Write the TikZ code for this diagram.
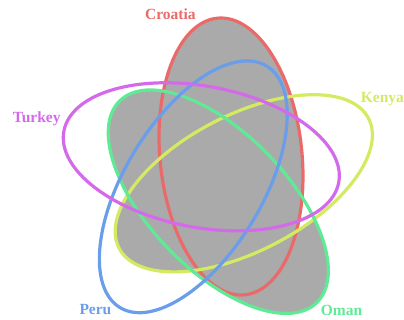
\documentclass[tikz,border=0pt]{standalone}
\usepackage{fontspec}
\setmainfont{Liberation Serif}
\usetikzlibrary{positioning}

\definecolor{croatiared}{RGB}{234,106,106}
\definecolor{kenyayellow}{RGB}{212,234,96}
\definecolor{omangreen}{RGB}{96,234,150}
\definecolor{perublue}{RGB}{106,158,234}
\definecolor{turkeypurple}{RGB}{212,106,234}
\definecolor{cellgray}{RGB}{170,170,170}

\tikzset{
  setline/.style={line width=3.2pt},
  setlabel/.style={font=\bfseries\fontsize{15.5}{18}\selectfont, anchor=base west, inner sep=0pt},
  croatia/.style={rotate around={95.65:(231,163.5)}},
  kenya/.style={rotate around={27.5:(243.8,136.7)}},
  oman/.style={rotate around={-45.7:(218.3,118.3)}},
  peru/.style={rotate around={58.7:(193.3,133.2)}},
  turkey/.style={rotate around={-10.6:(201.3,163.2)}}
}
\def\ellC{(231,163.5) ellipse [x radius=139, y radius=71]}
\def\ellK{(243.8,136.7) ellipse [x radius=140.6, y radius=68]}
\def\ellO{(218.3,118.3) ellipse [x radius=141, y radius=68.6]}
\def\ellP{(193.3,133.2) ellipse [x radius=141.3, y radius=68.6]}
\def\ellT{(201.3,163.2) ellipse [x radius=139.8, y radius=70.6]}
% clockwise frame, so ellipse + frame clips to the outside of the ellipse
\def\outer{(-400,-400) rectangle (800,800)}

\begin{document}
\begin{tikzpicture}[x=1pt,y=1pt]
    \useasboundingbox (0,0) rectangle (404,320);

    % filled cells
    \fill[cellgray, croatia] \ellC;
    \foreach \k/\o/\p/\t in {0/1/0/0, 0/1/0/1, 0/1/1/0, 0/1/1/1, 1/1/1/0, 1/1/1/1, 1/0/1/0, 1/0/1/1}{
        \begin{scope}
            \ifnum\k=1 \clip[kenya] \ellK; \else \clip[kenya] \ellK \outer; \fi
            \ifnum\o=1 \clip[oman] \ellO; \else \clip[oman] \ellO \outer; \fi
            \ifnum\p=1 \clip[peru] \ellP; \else \clip[peru] \ellP \outer; \fi
            \ifnum\t=1 \clip[turkey] \ellT; \else \clip[turkey] \ellT \outer; \fi
            \fill[cellgray] (0,0) rectangle (404,320);
        \end{scope}
    }

    % outlines
    \draw[setline, croatiared, croatia] \ellC;
    \draw[setline, kenyayellow, kenya] \ellK;
    \draw[setline, omangreen, oman] \ellO;
    \draw[setline, perublue, peru] \ellP;
    \draw[setline, turkeypurple, turkey] \ellT;

    % labels
    \node[setlabel, text=croatiared] (croatia) at (145,300.7) {Croatia};
    \node[setlabel, text=kenyayellow] (kenya) at (360.7,217.3) {Kenya};
    \node[setlabel, text=omangreen] (oman) at (320.7,4.3) {Oman};
    \node[setlabel, text=perublue] (peru) at (79.3,5.7) {Peru};
    \node[setlabel, text=turkeypurple] (turkey) at (12.7,197.3) {Turkey};
\end{tikzpicture}
\end{document}
